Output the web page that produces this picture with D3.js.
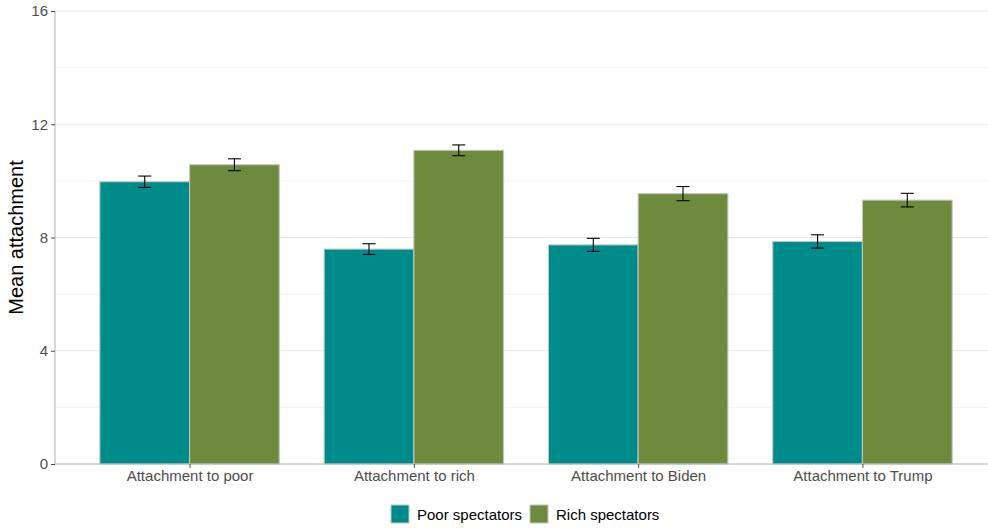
<!DOCTYPE html>
<html><head><meta charset="utf-8">
<script src="https://cdn.jsdelivr.net/npm/d3@7"></script>
<style>body{margin:0;background:#fff;} svg{display:block;font-family:"Liberation Sans",Arial,sans-serif;}</style>
</head><body>
<svg id="c" width="988" height="530"></svg>
<script>
const categories = ["Attachment to poor","Attachment to rich","Attachment to Biden","Attachment to Trump"];
const seriesNames = ["Poor spectators","Rich spectators"];
const poorValues = [9.97, 7.59, 7.74, 7.86];
const richValues = [10.57, 11.08, 9.55, 9.32];
const poorErr = [0.20, 0.19, 0.23, 0.235];
const richErr = [0.21, 0.19, 0.25, 0.24];
const yTicks = [0,4,8,12,16];
const colors = ["#008B8B","#6E8B3D"];

const svg = d3.select("#c");
const L = 55, T = 11, B = 464, Rp = 997;
const y = d3.scaleLinear().domain([0,16]).range([B,T]);
// discrete scale with 0.6 expansion like ggplot
const xc = d3.scaleLinear().domain([0.4, 4.6]).range([L, Rp]);
const step = xc(2)-xc(1);
const barW = step*0.8/2;

const data = categories.map((c,i)=>({c,i,vals:[
  {s:0,v:poorValues[i],e:poorErr[i]},
  {s:1,v:richValues[i],e:richErr[i]}]}));

// grid
const minor = [2,6,10,14];
svg.append("g").selectAll("line").data(minor).join("line")
  .attr("x1",L).attr("x2",988).attr("y1",d=>y(d)).attr("y2",d=>y(d))
  .attr("stroke","#f0f0f0").attr("stroke-width",0.8);
svg.append("g").selectAll("line").data(yTicks.slice(1)).join("line")
  .attr("x1",L).attr("x2",988).attr("y1",d=>y(d)).attr("y2",d=>y(d))
  .attr("stroke","#e6e6e6").attr("stroke-width",1);

// bars
const g = svg.append("g");
data.forEach(d=>{
  d.vals.forEach(b=>{
    const cx = xc(d.i+1) + (b.s===0 ? -barW/2 : barW/2);
    g.append("rect").attr("x",cx-barW/2).attr("width",barW)
      .attr("y",y(b.v)).attr("height",y(0)-y(b.v))
      .attr("fill",colors[b.s]).attr("stroke","#c4c4c4").attr("stroke-width",1.1);
  });
});
data.forEach(d=>{
  d.vals.forEach(b=>{
    const cx = xc(d.i+1) + (b.s===0 ? -barW/2 : barW/2);
    const eg = g.append("g").attr("stroke","#000").attr("stroke-width",1.1);
    eg.append("line").attr("x1",cx).attr("x2",cx).attr("y1",y(b.v-b.e)).attr("y2",y(b.v+b.e));
    eg.append("line").attr("x1",cx-6.5).attr("x2",cx+6.5).attr("y1",y(b.v-b.e)).attr("y2",y(b.v-b.e));
    eg.append("line").attr("x1",cx-6.5).attr("x2",cx+6.5).attr("y1",y(b.v+b.e)).attr("y2",y(b.v+b.e));
  });
});

// axes
const yAxis = svg.append("g").attr("transform",`translate(${L},0)`)
  .call(d3.axisLeft(y).tickValues(yTicks).tickSize(4).tickPadding(3));
yAxis.select(".domain").attr("stroke","#b3b3b3").attr("d",`M0,${T}V${B}`);
yAxis.selectAll(".tick line").attr("stroke","#4d4d4d");
yAxis.selectAll(".tick text").attr("fill","#4d4d4d").style("font-size","15px");

const xAxis = svg.append("g").attr("transform",`translate(0,${B})`)
  .call(d3.axisBottom(xc).tickValues([1,2,3,4]).tickFormat(v=>categories[v-1]).tickSize(4).tickPadding(2));
xAxis.select(".domain").attr("stroke","#b3b3b3").attr("d",`M${L},0H988`);
xAxis.selectAll(".tick line").attr("stroke","#4d4d4d");
xAxis.selectAll(".tick text").attr("fill","#4d4d4d").style("font-size","15px");

svg.append("text").attr("transform",`translate(23,${(T+B)/2}) rotate(-90)`)
  .attr("text-anchor","middle").style("font-size","20px").attr("fill","#000").text("Mean attachment");

// legend
const lg = svg.append("g");
const legendX = [391, 530];
seriesNames.forEach((s,i)=>{
  lg.append("rect").attr("x",legendX[i]).attr("y",505).attr("width",18).attr("height",18)
    .attr("fill",colors[i]).attr("stroke","#c4c4c4").attr("stroke-width",1);
  lg.append("text").attr("x",legendX[i]+26).attr("y",520).style("font-size","15px")
    .attr("fill","#000").text(s);
});
</script>
</body></html>
